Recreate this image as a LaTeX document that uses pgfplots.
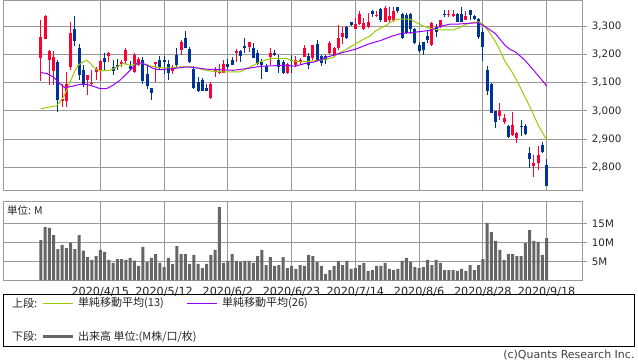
\documentclass[border=0pt]{standalone}
\usepackage{pgfplots}
\pgfplotsset{compat=1.18}
\usepackage{pgfplotstable}
\usepackage{fontspec}
\setmainfont{DejaVu Sans}
\newfontfamily\jp{Noto Sans CJK JP}
\definecolor{cup}{HTML}{FF0033}
\definecolor{cdn}{HTML}{003399}
\definecolor{mathirteen}{HTML}{99CC00}
\definecolor{matwentysix}{HTML}{9900FF}
\definecolor{vol}{HTML}{666666}
\definecolor{gridc}{HTML}{999999}

\pgfplotstableread{
i o h l c v
0 3189 3323 3106 3263 10.6
1 3256 3340 3256 3338 14.0
2 3180 3216 3091 3212 13.8
3 3141 3212 3093 3192 11.9
4 3173 3182 2995 3037 8.2
5 3035 3094 3015 3042 9.3
6 3035 3137 3015 3097 8.5
7 3156 3315 3146 3277 9.9
8 3292 3335 3231 3249 8.2
9 3224 3238 3108 3126 11.9
10 3144 3162 3084 3096 7.8
11 3109 3129 3055 3126 6.1
12 3094 3144 3088 3100 5.4
13 3137 3156 3108 3148 6.4
14 3146 3179 3106 3176 8.0
15 3187 3204 3146 3174 7.5
16 3194 3209 3174 3206 5.4
17 3156 3180 3129 3141 4.6
18 3164 3185 3146 3155 5.6
19 3168 3180 3156 3174 5.6
20 3176 3222 3168 3217 5.4
21 3160 3176 3144 3150 5.9
22 3139 3206 3136 3198 5.2
23 3162 3190 3158 3183 3.8
24 3182 3190 3097 3106 8.8
25 3131 3167 3078 3087 4.8
26 3082 3082 3037 3063 5.9
27 3168 3175 3104 3173 6.9
28 3180 3196 3144 3156 4.6
29 3180 3195 3132 3175 3.5
30 3166 3182 3108 3135 5.9
31 3141 3162 3130 3150 4.3
32 3198 3222 3156 3162 9.0
33 3217 3253 3198 3245 6.9
34 3259 3283 3224 3224 6.9
35 3219 3228 3171 3175 4.3
36 3150 3158 3078 3082 6.7
37 3103 3119 3068 3071 4.3
38 3109 3118 3069 3072 3.2
39 3081 3096 3071 3071 4.3
40 3047 3101 3041 3096 6.7
41 3141 3156 3121 3150 8.0
42 3133 3167 3130 3139 19.3
43 3135 3180 3133 3166 4.6
44 3166 3185 3150 3156 5.1
45 3182 3190 3162 3164 6.9
46 3204 3219 3174 3212 5.1
47 3213 3215 3174 3196 4.8
48 3230 3259 3204 3224 5.1
49 3226 3246 3208 3243 5.1
50 3222 3241 3187 3187 4.6
51 3206 3215 3164 3167 6.4
52 3174 3185 3113 3162 8.0
53 3158 3168 3138 3138 4.0
54 3192 3222 3162 3206 6.1
55 3207 3216 3196 3200 3.8
56 3182 3198 3135 3156 4.0
57 3173 3180 3130 3135 6.1
58 3133 3171 3130 3166 3.2
59 3180 3198 3133 3176 3.8
60 3164 3194 3156 3182 3.0
61 3174 3188 3162 3180 4.0
62 3192 3233 3190 3224 3.8
63 3196 3204 3148 3162 6.7
64 3186 3233 3182 3233 6.4
65 3239 3251 3180 3182 4.8
66 3194 3198 3158 3170 3.8
67 3194 3198 3168 3182 1.7
68 3206 3247 3200 3241 2.7
69 3194 3228 3190 3222 3.8
70 3222 3305 3216 3260 5.1
71 3262 3299 3239 3277 4.0
72 3299 3301 3254 3258 5.1
73 3314 3317 3301 3305 3.0
74 3291 3329 3290 3307 3.2
75 3308 3356 3305 3344 4.0
76 3290 3329 3287 3313 4.6
77 3299 3347 3293 3317 2.5
78 3353 3359 3332 3344 2.7
79 3337 3353 3332 3340 3.8
80 3362 3365 3317 3321 3.8
81 3317 3373 3314 3365 4.6
82 3321 3368 3317 3337 3.0
83 3321 3368 3317 3355 2.7
84 3368 3370 3347 3356 3.0
85 3343 3349 3256 3260 5.1
86 3339 3346 3272 3278 5.9
87 3343 3349 3272 3292 4.8
88 3289 3293 3239 3241 3.5
89 3233 3245 3206 3213 3.2
90 3245 3245 3198 3215 3.5
91 3266 3287 3242 3251 5.4
92 3233 3317 3229 3313 4.0
93 3296 3308 3263 3281 5.4
94 3299 3323 3295 3323 4.6
95 3345 3357 3332 3343 2.7
96 3341 3357 3334 3345 2.7
97 3337 3357 3332 3345 2.7
98 3343 3346 3314 3317 2.5
99 3343 3370 3314 3317 3.0
100 3321 3353 3321 3335 2.5
101 3359 3359 3323 3341 4.0
102 3338 3341 3323 3326 2.7
103 3325 3329 3254 3263 4.0
104 3281 3293 3177 3227 5.6
105 3146 3158 3058 3072 15.1
106 3096 3098 2992 2992 12.7
107 3001 3001 2939 2960 10.4
108 2983 3027 2966 2998 8.0
109 2960 2989 2954 2974 5.4
110 2948 2950 2903 2906 6.9
111 2914 2995 2911 2951 6.9
112 2903 2925 2885 2922 6.4
113 2948 2966 2911 2944 6.4
114 2948 2952 2915 2918 9.8
115 2849 2870 2797 2828 13.2
116 2803 2845 2767 2814 10.4
117 2816 2877 2789 2843 10.1
118 2879 2889 2849 2853 6.7
119 2809 2829 2734 2734 11.1
}\candles

\pgfplotsset{
  panel/.style={
    scale only axis, width=579.4bp,
    xmin=-8.82, xmax=127.5,
    axis line style={gridc, line width=1bp},
    xtick={14,29,44,59,74,89,104,119},
    ytick pos=right, yticklabel pos=right,
    xtick style={draw=none},
    ytick style={gridc, line width=1bp},
    tick align=outside, major tick length=4bp,
    grid=major, major grid style={gridc, line width=1bp},
    yticklabel style={font=\fontsize{10.3bp}{12bp}\selectfont, text=black!85, anchor=west, inner sep=0pt, xshift=5bp},
    xticklabel style={font=\fontsize{11.2bp}{13bp}\selectfont, text=black!85, inner sep=0pt, yshift=-3bp},
    /pgf/number format/assume math mode=true,
    scaled y ticks=false,
  },
  candle/.style n args={2}{draw=none, mark=none, forget plot,
    error bars/.cd, y dir=minus, y explicit, error mark=none,
    error bar style={draw=#1, solid, line width=#2}},
}

\begin{document}
\begin{tikzpicture}[x=1bp,y=1bp]
\path[use as bounding box] (0,0) rectangle (638,-362);

% price panel
\begin{axis}[panel,
  at={(3.3bp,-190.3bp)}, anchor=south west, height=189.6bp,
  ymin=2718, ymax=3391,
  xticklabels={},
  ytick={2800,2900,3000,3100,3200,3300},
  /pgf/number format/1000 sep={,},
]
% up candles
\addplot[restrict expr to domain={\thisrow{c}-\thisrow{o}}{0:1000}, candle={cup}{1bp}]
  table[x=i, y=h, y error minus expr=\thisrow{h}-\thisrow{l}] {\candles};
\addplot[restrict expr to domain={\thisrow{c}-\thisrow{o}}{0:1000}, candle={cup}{3bp}]
  table[x=i, y=c, y error minus expr={max(\thisrow{c}-\thisrow{o},3)}] {\candles};
% down candles
\addplot[restrict expr to domain={\thisrow{c}-\thisrow{o}}{-1000:-0.5}, candle={cdn}{1bp}]
  table[x=i, y=h, y error minus expr=\thisrow{h}-\thisrow{l}] {\candles};
\addplot[restrict expr to domain={\thisrow{c}-\thisrow{o}}{-1000:-0.5}, candle={cdn}{3bp}]
  table[x=i, y=o, y error minus expr={max(\thisrow{o}-\thisrow{c},3)}] {\candles};
% MA13
\addplot[mathirteen, line width=1bp, mark=none] coordinates {
(0,3007)(1.5,3012)(3.7,3018)(4.5,3031)(5.3,3049)(6.1,3073)(6.9,3102)(7.9,3138)(8.8,3162)(10,3174)(10.8,3179)(11.6,3170)(12.4,3156)(13.1,3147)(14.3,3142)
(16.3,3144)(17.9,3156)(19.4,3168)(21,3162)(22.6,3166)(23.7,3170)(25.3,3162)(27.3,3154)(29.6,3152)(32.8,3156)(35.9,3156)(38.2,3146)(40.6,3140)(43.7,3138)(46.9,3138)
(48.4,3150)(50,3162)(51.6,3174)(53.2,3182)(54.7,3186)(57.9,3186)(59.4,3177)(61,3174)(63.3,3176)(65.7,3180)(68.8,3189)(69.6,3200)(71.6,3216)(73.5,3233)
(76.3,3257)(77.5,3266)(78.6,3282)(81.4,3305)(82.9,3321)(84.5,3326)(86.9,3325)(88,3316)(90,3301)(91.6,3293)(93.9,3287)(97.1,3287)(98.6,3296)(100.2,3308)
(101.8,3314)(103,3316)(104.1,3307)(105.3,3283)(106.9,3247)(108,3216)(109.2,3176)(110.8,3140)(112.4,3096)(113.9,3050)(115.5,3001)(117,2950)(118.6,2908)(119,2898)
};
% MA26
\addplot[matwentysix, line width=1bp, mark=none] coordinates {
(0,3136)(1.5,3132)(3,3120)(4.5,3096)(5.7,3082)(7.3,3087)(9.2,3094)(10.8,3094)(12.4,3087)(13.9,3079)(15.5,3079)(17,3091)(18.6,3108)(20.2,3132)(21.8,3156)
(22.6,3168)(23.7,3170)(24.9,3162)(26.5,3150)(28,3146)(31.2,3150)(34.3,3156)(35.9,3154)(39,3148)(42.2,3146)(45.3,3144)(48.4,3150)(51.6,3158)(54.7,3160)
(57.9,3162)(59.8,3158)(62.1,3168)(64.5,3174)(67.6,3192)(70.8,3206)(73.9,3218)(77.1,3237)(80.2,3251)(82.6,3265)(84.9,3275)(87.3,3278)(89.6,3282)(91.6,3286)
(94.3,3301)(96.3,3308)(98.2,3308)(102.9,3313)(104.5,3299)(106.9,3275)(109.2,3233)(110.4,3218)(111.6,3210)(113.9,3180)(116.3,3138)(118.6,3097)(119,3087)
};
\end{axis}

% volume panel
\begin{axis}[panel,
  at={(3.3bp,-280.3bp)}, anchor=south west, height=79bp,
  ymin=0, ymax=20.8,
  ytick={5,10,15}, yticklabels={5M,10M,15M},
  xticklabels={2020/4/15,2020/5/12,2020/6/2,2020/6/23,2020/7/14,2020/8/6,2020/8/28,2020/9/18},
]
\addplot[ybar, bar width=3bp, bar shift=0pt, fill=vol, draw=none] table[x=i, y=v] {\candles};
\end{axis}

\node[anchor=west, inner sep=0pt, text=black!85] at (7,-210.5) {\jp\fontsize{10.5bp}{12bp}\selectfont 単位: M};

% legend box
\draw[black, line width=1bp] (3.3,-294.3) rectangle (634.7,-346);
\node[anchor=west, inner sep=0pt, text=black!85] at (12,-303.3) {\jp\fontsize{11bp}{13bp}\selectfont 上段:};
\draw[mathirteen, line width=1bp] (43,-303.3) -- (73,-303.3);
\node[anchor=west, inner sep=0pt, text=black!85] at (78,-303.3) {\jp\fontsize{11bp}{13bp}\selectfont 単純移動平均(13)};
\draw[matwentysix, line width=1bp] (187,-303.3) -- (217,-303.3);
\node[anchor=west, inner sep=0pt, text=black!85] at (222,-303.3) {\jp\fontsize{11bp}{13bp}\selectfont 単純移動平均(26)};
\node[anchor=west, inner sep=0pt, text=black!85] at (12,-336.7) {\jp\fontsize{11bp}{13bp}\selectfont 下段:};
\draw[vol, line width=3.5bp] (43,-336.7) -- (73,-336.7);
\node[anchor=west, inner sep=0pt, text=black!85] at (78,-336.7) {\jp\fontsize{11bp}{13bp}\selectfont 出来高 単位:(M株/口/枚)};

\node[anchor=east, inner sep=0pt, text=black!75] at (634.7,-355.5) {\fontsize{11bp}{13bp}\selectfont (c)Quants Research Inc.};
\end{tikzpicture}
\end{document}
